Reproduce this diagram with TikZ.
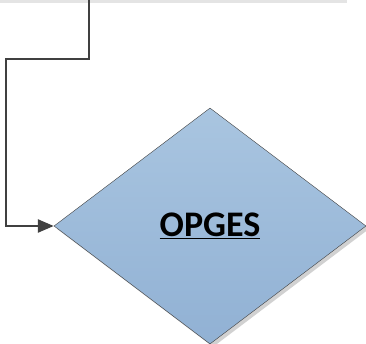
\documentclass[tikz,border=0pt]{standalone}
\usepackage{fontspec}
\setmainfont{Carlito}
\usetikzlibrary{shapes.geometric,shadows,arrows.meta}

\definecolor{lineGray}{HTML}{404040}
\definecolor{barGray}{HTML}{E4E4E4}
\definecolor{diaTop}{HTML}{A9C5E0}
\definecolor{diaBot}{HTML}{91B1D4}

\begin{document}
\begin{tikzpicture}[x=1pt, y=-1pt,
    decision/.style={diamond, draw=lineGray, thin, inner sep=0pt,
      minimum width=312pt, minimum height=236pt, aspect=1.32,
      top color=diaTop, bottom color=diaBot,
      drop shadow={shadow xshift=3pt, shadow yshift=-3pt, fill=black!18, opacity=1},
      font=\bfseries\fontsize{36}{38}\selectfont},
    conn/.style={draw=lineGray, line width=2.4pt, -{Triangle[length=16pt, width=13pt]}}]
  \useasboundingbox (0,0) rectangle (366,344);

  % gray strip at the top
  \fill[barGray] (0,0) rectangle (347,3);

  % decision
  \node[decision] (opges) at (210,226) {\raisebox{-3pt}{\underline{OPGES}}};

  % connector from above into the left corner
  \coordinate (src) at (89,0);
  \coordinate (bend) at (6,59);
  \draw[conn] (src) |- (bend) |- (opges.west);
\end{tikzpicture}
\end{document}
